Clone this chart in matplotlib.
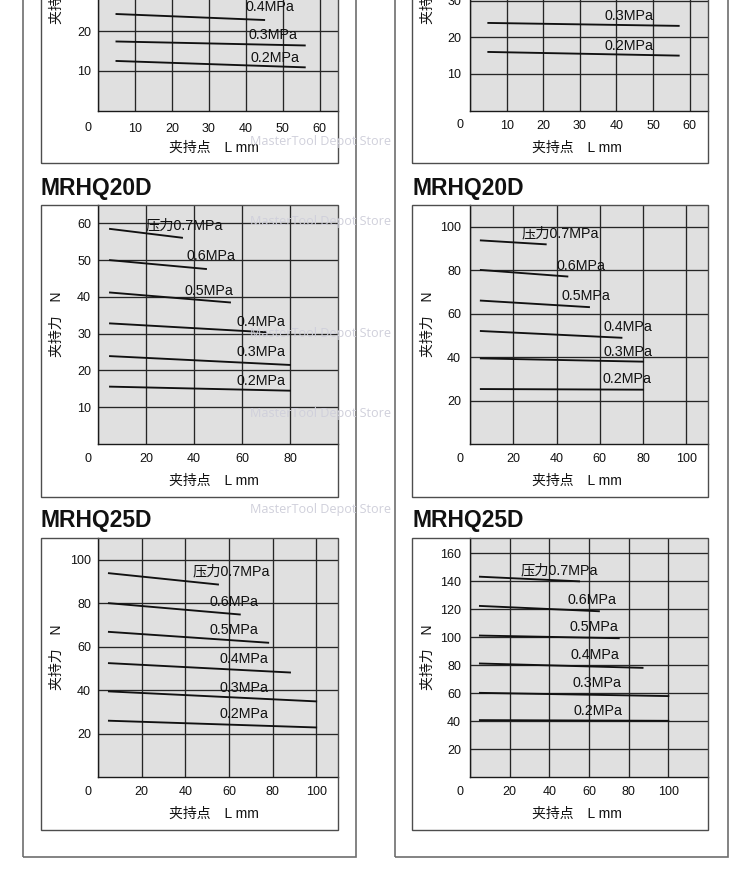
import matplotlib
matplotlib.use("Agg")
import matplotlib.pyplot as plt
from matplotlib.patches import Rectangle

W, H = 750, 881
LAT = ["Liberation Sans", "Noto Sans CJK SC", "DejaVu Sans"]
plt.rcParams['font.family'] = LAT

pressures = ["0.7MPa", "0.6MPa", "0.5MPa", "0.4MPa", "0.3MPa", "0.2MPa"]
L_start = 5

# top-left (cut off): only 0.4 / 0.3 / 0.2 MPa visible
a_press = pressures[3:]
a_L_end = [45, 56, 56]
a_F_start = [24.3, 17.4, 12.5]
a_F_end = [22.8, 16.4, 10.9]
a_lab_x = [40.0, 40.7, 41.3]
a_lab_y = [26.0, 19.1, 13.3]

# top-right (cut off): 0.3 / 0.2 MPa visible
b_press = pressures[4:]
b_L_end = [57, 57]
b_F_start = [23.9, 16.0]
b_F_end = [23.1, 15.0]
b_lab_x = [36.7, 36.7]
b_lab_y = [25.9, 17.5]

# MRHQ20D left
c_L_end = [35, 45, 55, 70, 80, 80]
c_F_start = [58.5, 50.0, 41.2, 32.8, 23.9, 15.6]
c_F_end = [56.1, 47.6, 38.5, 30.4, 21.5, 14.5]
c_lab_x = [19.8, 36.9, 36.1, 57.7, 57.8, 57.6]
c_lab_y = [59.4, 51.1, 41.7, 33.3, 24.9, 17.2]

# MRHQ20D right
d_L_end = [35, 45, 55, 70, 80, 80]
d_F_start = [93.7, 80.1, 66.0, 52.0, 39.4, 25.3]
d_F_end = [91.9, 77.1, 63.0, 48.9, 37.9, 25.0]
d_lab_x = [23.9, 40.1, 42.2, 61.8, 61.8, 61.2]
d_lab_y = [96.9, 81.9, 68.1, 53.7, 42.5, 29.9]

# MRHQ25D left
e_L_end = [55, 65, 78, 88, 100, 100]
e_F_start = [93.8, 80.0, 66.8, 52.4, 39.4, 25.9]
e_F_end = [88.6, 74.8, 61.8, 48.1, 34.8, 22.8]
e_lab_x = [43.2, 50.9, 51.3, 55.5, 55.6, 55.9]
e_lab_y = [94.5, 80.5, 67.7, 54.2, 40.9, 29.1]

# MRHQ25D right
f_L_end = [55, 65, 75, 87, 100, 100]
f_F_start = [143.3, 122.4, 101.2, 81.2, 60.2, 40.7]
f_F_end = [140.0, 118.6, 99.3, 78.1, 57.9, 40.2]
f_lab_x = [25.7, 49.0, 50.0, 50.7, 51.5, 52.3]
f_lab_y = [148.0, 126.7, 107.6, 87.4, 67.4, 47.1]

fig = plt.figure(figsize=(W / 100, H / 100), dpi=100)


def rect(x0, y0, x1, y1):
    return [x0 / W, 1 - y1 / H, (x1 - x0) / W, (y1 - y0) / H]


def box(x0, y0, x1, y1, color, lw):
    fig.add_artist(Rectangle((x0 / W, 1 - y1 / H), (x1 - x0) / W, (y1 - y0) / H,
                             transform=fig.transFigure, fill=False,
                             edgecolor=color, lw=lw, zorder=1))


# outer boxes
box(23, -20, 356, 857, "#6e6e6e", 1.2)
box(395, -20, 728, 857, "#6e6e6e", 1.2)


def panel(gx0, gy0, gx1, gy1, ix0, xlim, ylim, xticks, yticks,
          press, L_end, F_start, F_end, lab_x, lab_y, title, xl_frac, ypad, xpad):
    ax = fig.add_axes(rect(gx0, gy0, gx1, gy1))
    box(ix0, gy0, gx1, gy1 + 52.5, "#4d4d4d", 1.0)
    ax.set_facecolor("#e0e0e0")
    ax.set_xlim(*xlim)
    ax.set_ylim(*ylim)
    ax.set_xticks(xticks)
    ax.set_xticklabels([""] + [str(v) for v in xticks[1:]])
    ax.set_yticks(yticks)
    ax.tick_params(length=0, labelsize=9, colors="#111111")
    ax.tick_params(axis="x", pad=xpad)
    ax.tick_params(axis="y", pad=ypad)
    ax.grid(True, color="#262626", lw=0.95)
    ax.set_axisbelow(True)
    for s in ("top", "right"):
        ax.spines[s].set_visible(False)
    for s in ("left", "bottom"):
        ax.spines[s].set_color("#1a1a1a")
        ax.spines[s].set_linewidth(1.0)
    ax.annotate("0", xy=(0, 0), xycoords="data", xytext=(-7.5, -(xpad + 4.0)),
                textcoords="offset points", ha="center", va="center",
                fontsize=9, color="#111111", annotation_clip=False)
    for p, le, fs, fe, tx, ty in zip(press, L_end, F_start, F_end, lab_x, lab_y):
        ax.plot([L_start, le], [fs, fe], color="#111111", lw=1.35, zorder=3)
        txt = ("压力" + p) if p == "0.7MPa" else p
        ax.text(tx, ty, txt, ha="left", va="center", fontsize=10.3,
                color="#111111", zorder=4)
    ax.text(xl_frac, -37 / (gy1 - gy0), "夹持点\u3000L mm", transform=ax.transAxes,
            ha="center", va="center", fontsize=10, color="#111111")
    ax.text(-(gx0 - (ix0 + 16)) / (gx1 - gx0), 0.5, "夹持力\u3000N",
            transform=ax.transAxes, rotation=90, ha="center", va="center",
            fontsize=10, color="#111111")
    if title:
        fig.text(ix0 / W, 1 - (gy0 - 17) / H, title, ha="left", va="center",
                 fontsize=16.5, fontweight="bold", color="#111111")
    return ax


# top row (partially cut off)
panel(98, -128, 338, 110.7, 41, (0, 65), (0, 60), list(range(0, 61, 10)),
      list(range(10, 61, 10)), a_press, a_L_end, a_F_start, a_F_end,
      a_lab_x, a_lab_y, None, 0.483, 5, 8.5)
panel(470, -128, 708, 110.7, 412, (0, 65), (0, 65), list(range(0, 61, 10)),
      list(range(10, 61, 10)), b_press, b_L_end, b_F_start, b_F_end,
      b_lab_x, b_lab_y, None, 0.45, 6.5, 6.5)

# MRHQ20D
panel(98, 205, 338, 444, 41, (0, 100), (0, 65), [0, 20, 40, 60, 80],
      list(range(10, 61, 10)), pressures, c_L_end, c_F_start, c_F_end,
      c_lab_x, c_lab_y, "MRHQ20D", 0.483, 5, 6.5)
panel(470, 205, 708, 444, 412, (0, 110), (0, 110), [0, 20, 40, 60, 80, 100],
      list(range(20, 101, 20)), pressures, d_L_end, d_F_start, d_F_end,
      d_lab_x, d_lab_y, "MRHQ20D", 0.45, 6.5, 6.5)

# MRHQ25D
panel(98, 538, 338, 777, 41, (0, 110), (0, 110), [0, 20, 40, 60, 80, 100],
      list(range(20, 101, 20)), pressures, e_L_end, e_F_start, e_F_end,
      e_lab_x, e_lab_y, "MRHQ25D", 0.483, 5, 6.5)
panel(470, 538, 708, 777, 412, (0, 120), (0, 171), [0, 20, 40, 60, 80, 100],
      list(range(20, 161, 20)), pressures, f_L_end, f_F_start, f_F_end,
      f_lab_x, f_lab_y, "MRHQ25D", 0.45, 6.5, 6.5)

# shop watermark
for wy in [142, 222, 334, 414, 510]:
    fig.text(250 / W, 1 - wy / H, "MasterTool Depot Store", ha="left", va="center",
             fontsize=9.1, color="#d0d0db", family="Open Sans", zorder=10)

fig.savefig("out.png", dpi=100)
